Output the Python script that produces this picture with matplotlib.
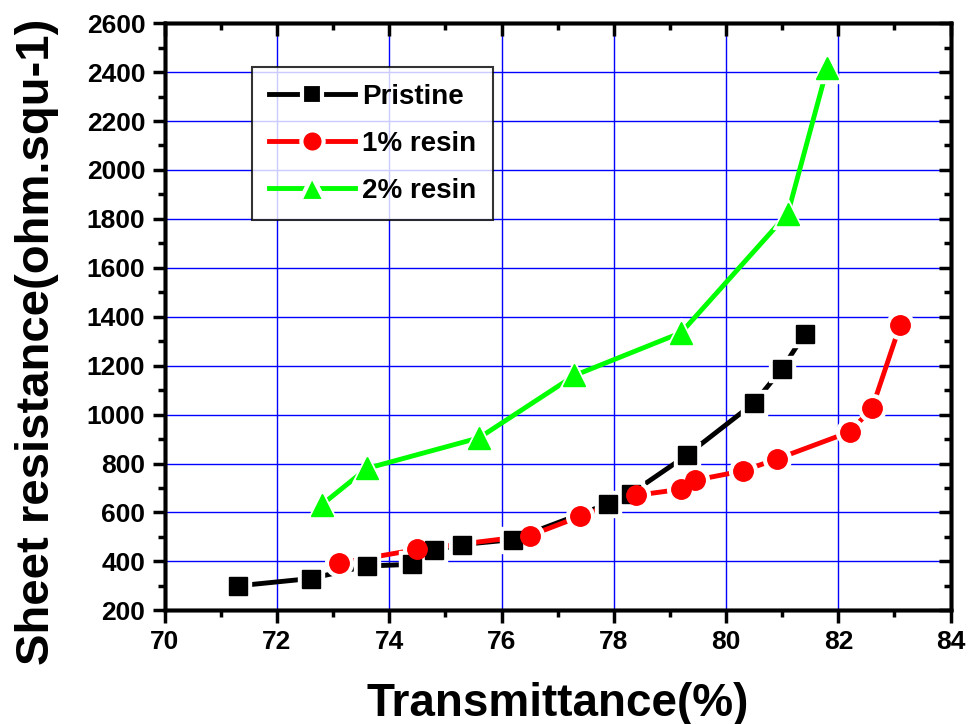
import matplotlib.pyplot as plt
from matplotlib.lines import Line2D
from matplotlib.ticker import MultipleLocator

plt.rcParams['font.family'] = ['Liberation Sans', 'DejaVu Sans']
plt.rcParams['font.weight'] = 'bold'

# data
pristine_x = [71.3, 72.6, 73.6, 74.4, 74.8, 75.3, 76.2, 77.9, 78.3, 79.3, 80.5, 81.0, 81.4]
pristine_y = [300, 330, 381, 388, 445, 469, 489, 636, 677, 834, 1048, 1188, 1329]
resin1_x = [73.1, 74.5, 76.5, 77.4, 78.4, 79.2, 79.45, 80.3, 80.9, 82.2, 82.6, 83.1]
resin1_y = [393, 449, 505, 584, 670, 695, 732, 770, 818, 929, 1025, 1366]
resin2_x = [72.8, 73.6, 75.6, 77.3, 79.2, 81.1, 81.8]
resin2_y = [632, 780, 905, 1160, 1335, 1822, 2415]

series = [
    ("Pristine", pristine_x, pristine_y, 'black', 's', 13),
    ("1% resin", resin1_x, resin1_y, 'red', 'o', 14),
    ("2% resin", resin2_x, resin2_y, '#00ff00', '^', 16),
]

fig = plt.figure(figsize=(9.69, 7.24), dpi=100)
ax = fig.add_axes([0.170, 0.157, 0.811, 0.811])

handles = []
for name, x, y, col, mk, ms in series:
    ax.plot(x, y, color=col, lw=3.5, zorder=3)
    # white halo = gap between line and marker (origin style)
    ax.plot(x, y, ls='none', marker=mk, ms=ms + 6, color='white', zorder=4)
    ax.plot(x, y, ls='none', marker=mk, ms=ms, color=col, zorder=5)
    handles.append(Line2D([], [], color=col, lw=3.5, marker=mk, ms=ms + 2,
                          mfc=col, mec='white', mew=3, label=name))

ax.set_xlim(70, 84)
ax.set_ylim(200, 2600)
ax.xaxis.set_major_locator(MultipleLocator(2))
ax.xaxis.set_minor_locator(MultipleLocator(1))
ax.yaxis.set_major_locator(MultipleLocator(200))
ax.yaxis.set_minor_locator(MultipleLocator(100))
ax.grid(True, which='major', color='#0000ff', lw=1.0, zorder=1)
ax.set_axisbelow(True)

for s in ax.spines.values():
    s.set_linewidth(2.5)
ax.tick_params(which='major', direction='out', length=9, width=2.5, labelsize=19, pad=5)
ax.tick_params(which='minor', direction='out', length=5, width=2.5)
for lab in ax.get_xticklabels() + ax.get_yticklabels():
    lab.set_fontweight('bold')

# inward ticks on top / right
axr = ax.twinx()
axr.set_ylim(ax.get_ylim())
axr.yaxis.set_major_locator(MultipleLocator(200))
axr.yaxis.set_minor_locator(MultipleLocator(100))
axr.tick_params(which='major', direction='in', length=9, width=2.5, labelright=False)
axr.tick_params(which='minor', direction='in', length=5, width=2.5)
axt = ax.twiny()
axt.set_xlim(ax.get_xlim())
axt.xaxis.set_major_locator(MultipleLocator(2))
axt.xaxis.set_minor_locator(MultipleLocator(1))
axt.tick_params(which='major', direction='in', length=9, width=2.5, labeltop=False)
axt.tick_params(which='minor', direction='in', length=5, width=2.5)
for a in (axr, axt):
    for s in a.spines.values():
        s.set_linewidth(2.5)

ax.set_xlabel("Transmittance(%)", fontsize=33, fontweight='bold', labelpad=20)
ax.set_ylabel("Sheet resistance(ohm.squ-1)", fontsize=34, fontweight='bold')
ax.yaxis.set_label_coords(-0.134, 0.457)

leg = ax.legend(handles=handles, loc='upper left', bbox_to_anchor=(0.111, 0.925),
                borderaxespad=0, frameon=True, fancybox=False, edgecolor='black',
                handlelength=3.1, handletextpad=0.25, borderpad=0.6, labelspacing=0.75,
                prop={'weight': 'bold', 'size': 20})
leg.get_frame().set_linewidth(1.5)
leg.set_zorder(10)

fig.savefig("out.png", dpi=100)
